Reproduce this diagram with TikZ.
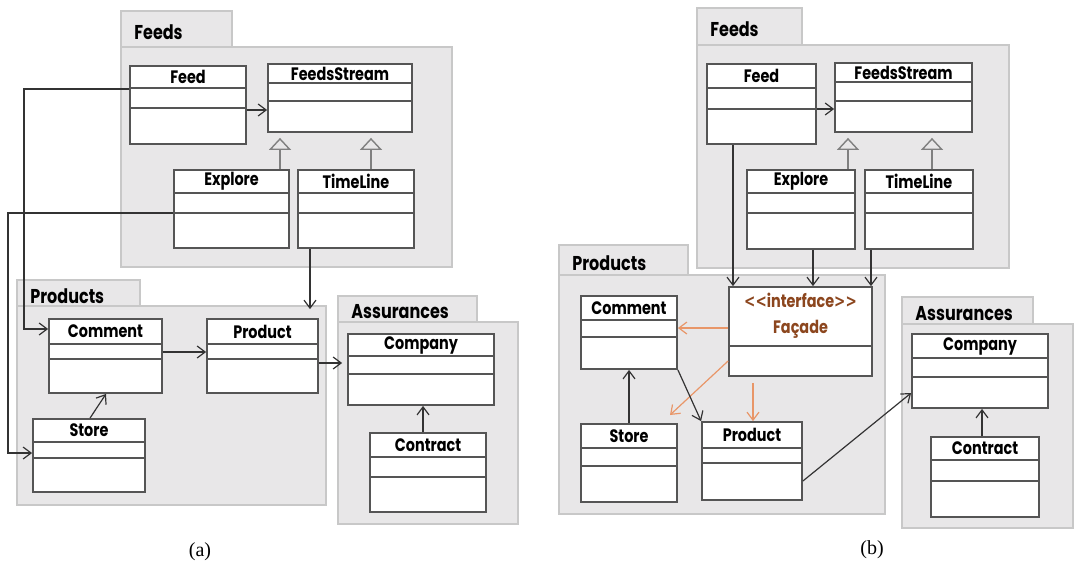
\documentclass[tikz,border=0pt]{standalone}
\usepackage{fontspec}
\setmainfont{Liberation Serif}
\setsansfont{Poppins}[FakeStretch=0.8]
\newfontfamily\anglefont{DejaVu Sans}[FakeStretch=0.75]
\usetikzlibrary{arrows.meta,calc,fit,positioning}

\definecolor{pkgfill}{RGB}{232,231,232}
\definecolor{pkgline}{RGB}{200,200,200}
\definecolor{clsline}{RGB}{85,85,85}
\definecolor{facadeorange}{RGB}{232,150,104}
\definecolor{facadebrown}{RGB}{140,70,30}

\tikzset{
  pkg/.style={fill=pkgfill, draw=pkgline, line width=0.8pt},
  pkgname/.style={font=\sffamily\bfseries\fontsize{10}{12}\selectfont, anchor=west, inner sep=0pt},
  classbox/.style={draw=clsline, fill=white, line width=0.9pt, inner sep=0pt},
  compsep/.style={draw=clsline, line width=1.1pt},
  classname/.style={font=\sffamily\bfseries\fontsize{9}{10}\selectfont, inner sep=0pt},
  assoc/.style={draw=black!80, line width=0.6pt, -{Straight Barb[length=4pt,width=6pt]}},
  facadearrow/.style={draw=facadeorange, line width=0.6pt, -{Straight Barb[length=4pt,width=6pt]}},
  inherit/.style={draw=gray, line width=0.7pt, -{Triangle[open,length=6pt,width=11pt]}},
  caption/.style={font=\rmfamily\fontsize{10}{12}\selectfont, inner sep=0pt},
}

% package: name, x1, ytab, xtab, ybody, x2, y2, title
\newcommand{\umlpackage}[8]{%
  \draw[pkg] (#2,#3) rectangle (#4,#5);
  \draw[pkg] (#2,#5) rectangle (#6,#7);
  \node[pkgname] (#1) at ($(#2,#3)!0.5!(#2,#5)+(13,3)$) {#8};
}
% class: name, x1, y1, x2, y2, sep1, sep2, title
\newcommand{\umlclass}[8]{%
  \node[classbox, fit={(#2,#3) (#4,#5)}] (#1) {};
  \draw[compsep] (#2,#6) -- (#4,#6);
  \draw[compsep] (#2,#7) -- (#4,#7);
  \node[classname] (#1-title) at ($(#2,#3)!0.5!(#4,#6)$) {#8};
}

\begin{document}
\begin{tikzpicture}[x=0.5pt, y=-0.5pt]
    \useasboundingbox (0,0) rectangle (1074,563);

    % (a) packages
    \umlpackage{feedsA}{121}{11}{232}{47}{452}{267}{Feeds}
    \umlpackage{productsA}{17}{280}{140}{306}{326}{505}{Products}
    \umlpackage{assurancesA}{338}{296}{477}{322}{518}{524}{Assurances}

    % (a) classes
    \umlclass{feedA}{130}{66}{246}{144}{88}{108}{Feed}
    \umlclass{fsA}{268}{64}{412}{132}{83}{101}{FeedsStream}
    \umlclass{exploreA}{174}{170}{289}{248}{193}{213}{Explore}
    \umlclass{timelineA}{298}{170}{414}{248}{193}{213}{TimeLine}
    \umlclass{commentA}{49}{319}{162}{393}{344}{359}{Comment}
    \umlclass{productA}{207}{319}{318}{393}{344}{359}{Product}
    \umlclass{storeA}{33}{419}{145}{492}{442}{458}{Store}
    \umlclass{companyA}{348}{334}{494}{405}{356}{374}{Company}
    \umlclass{contractA}{370}{433}{486}{512}{457}{477}{Contract}

    % (a) connectors
    \draw[inherit, shorten >=2.5pt] (exploreA.north -| 280,0) -- (fsA.south -| 280,0);
    \draw[inherit, shorten >=2.5pt] (timelineA.north -| 371,0) -- (fsA.south -| 371,0);
    \draw[assoc] (feedA.east |- 0,110) -- (fsA.west |- 0,110);
    \draw[assoc] (feedA.west |- 0,89) -| (24,329) -- (commentA.west |- 0,329);
    \draw[assoc] (exploreA.west |- 0,213) -| (8,453) -- (storeA.west |- 0,453);
    \draw[assoc, shorten >=4.5pt] (timelineA.south -| 310,0) -- (productA.north -| 310,0);
    \draw[assoc] (commentA.east |- 0,352) -- (productA.west |- 0,352);
    \draw[assoc] (storeA.north -| 90,0) -- (commentA.south -| 106,0);
    \draw[assoc, shorten >=2.5pt] (productA.east |- 0,363) -- (companyA.west |- 0,363);
    \draw[assoc] (contractA.north -| 423,0) -- (companyA.south -| 423,0);

    % (b) packages
    \umlpackage{feedsB}{697}{8}{802}{45}{1009}{268}{Feeds}
    \umlpackage{productsB}{559}{245}{688}{275}{885}{514}{Products}
    \umlpackage{assurancesB}{902}{297}{1033}{324}{1073}{528}{Assurances}

    % (b) classes
    \umlclass{feedB}{707}{64}{816}{144}{88}{109}{Feed}
    \umlclass{fsB}{835}{63}{972}{132}{82}{101}{FeedsStream}
    \umlclass{exploreB}{747}{170}{855}{249}{193}{213}{Explore}
    \umlclass{timelineB}{865}{170}{973}{249}{193}{213}{TimeLine}
    \umlclass{commentB}{581}{296}{677}{369}{320}{337}{Comment}
    \umlclass{storeB}{581}{424}{677}{502}{448}{466}{Store}
    \umlclass{productB}{702}{422}{802}{500}{448}{463}{Product}
    \umlclass{companyB}{912}{334}{1048}{408}{358}{377}{Company}
    \umlclass{contractB}{931}{437}{1039}{517}{460}{481}{Contract}
    % the facade has a single compartment
    \node[classbox, fit={(729,287) (872,376)}] (facade) {};
    \draw[compsep] (729,346) -- (872,346);
    \node[classname, text=facadebrown, align=center] (facade-title) at (800.5,316)
        {{\anglefont\symbol{60}\symbol{60}}interface{\anglefont\symbol{62}\symbol{62}}\\[3pt] Façade};

    % (b) connectors
    \draw[inherit, shorten >=2.5pt] (exploreB.north -| 848,0) -- (fsB.south -| 848,0);
    \draw[inherit, shorten >=2.5pt] (timelineB.north -| 932,0) -- (fsB.south -| 932,0);
    \draw[assoc] (feedB.east |- 0,109) -- (fsB.west |- 0,109);
    \draw[assoc] (feedB.south -| 733,0) -- (facade.north -| 733,0);
    \draw[assoc] (exploreB.south -| 813,0) -- (facade.north -| 813,0);
    \draw[assoc] (timelineB.south -| 871,0) -- (facade.north -| 871,0);
    \coordinate (storeBin) at (670,415);
    \draw[facadearrow] (facade.west |- 0,328) -- (commentB.east |- 0,328);
    \draw[facadearrow] (facade.west |- 0,361) -- (storeBin);
    \draw[facadearrow, shorten <=3pt] (facade.south -| 753,0) -- (productB.north -| 753,0);
    \draw[assoc] (commentB.south east) -- (productB.north west);
    \draw[assoc] (storeB.north) -- (commentB.south);
    \draw[assoc] (productB.east |- 0,481) -- (companyB.west |- 0,393);
    \draw[assoc] (contractB.north -| 982,0) -- (companyB.south -| 982,0);

    % captions
    \node[caption] (capA) at (200,552) {(a)};
    \node[caption] (capB) at (872,550) {(b)};
\end{tikzpicture}
\end{document}
